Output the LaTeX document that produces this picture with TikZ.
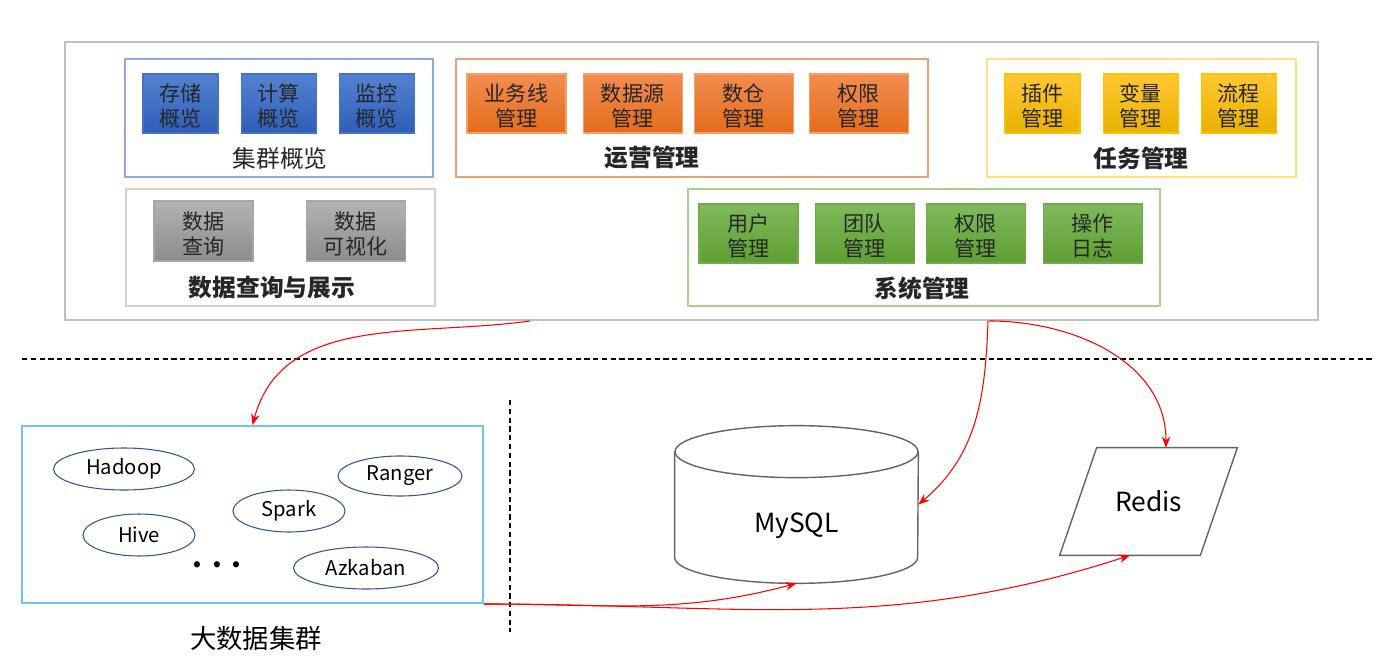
\documentclass[tikz,border=0pt]{standalone}
\usepackage{fontspec}
\setmainfont{Noto Sans CJK SC}
\usetikzlibrary{positioning, shapes.geometric, arrows.meta}

\definecolor{outerline}{RGB}{191,191,191}
\definecolor{clusterline}{RGB}{143,170,220}
\definecolor{opsline}{RGB}{232,162,122}
\definecolor{taskline}{RGB}{255,225,120}
\definecolor{queryline}{RGB}{208,208,208}
\definecolor{sysline}{RGB}{169,209,142}
\definecolor{bigline}{RGB}{110,198,240}
\definecolor{appline}{RGB}{47,85,151}
\definecolor{dbline}{RGB}{100,100,100}
\definecolor{itemtext}{RGB}{38,38,38}
\definecolor{bluetop}{RGB}{84,131,210}
\definecolor{bluebot}{RGB}{46,93,184}
\definecolor{blueline}{RGB}{68,114,196}
\definecolor{orangetop}{RGB}{242,141,80}
\definecolor{orangebot}{RGB}{228,108,27}
\definecolor{orangeline}{RGB}{244,160,106}
\definecolor{yellowtop}{RGB}{255,200,51}
\definecolor{yellowbot}{RGB}{233,177,0}
\definecolor{yellowline}{RGB}{255,192,0}
\definecolor{graytop}{RGB}{179,179,179}
\definecolor{graybot}{RGB}{140,140,140}
\definecolor{grayline}{RGB}{166,166,166}
\definecolor{greentop}{RGB}{128,186,92}
\definecolor{greenbot}{RGB}{94,158,50}
\definecolor{greenline}{RGB}{112,173,71}

\begin{document}
\begin{tikzpicture}[
  grp/.style={draw, rectangle, inner sep=0pt, line width=1.1pt},
  item/.style={rectangle, inner sep=0pt, minimum height=1.18cm, line width=0.6pt,
    text height=22pt, text depth=10pt,
    text=itemtext, font=\fontsize{12}{13.6}\selectfont},
  bluebox/.style={item, draw=blueline, top color=bluetop, bottom color=bluebot, minimum width=1.5cm},
  orangebox/.style={item, draw=orangeline, top color=orangetop, bottom color=orangebot, minimum width=1.98cm},
  yellowbox/.style={item, draw=yellowline, top color=yellowtop, bottom color=yellowbot, minimum width=1.5cm},
  graybox/.style={item, draw=grayline, top color=graytop, bottom color=graybot, minimum width=1.98cm, minimum height=1.2cm},
  greenbox/.style={item, draw=greenline, top color=greentop, bottom color=greenbot, minimum width=1.98cm},
  grptitle/.style={text=itemtext, font=\fontsize{13.5}{15}\selectfont},
  app/.style={draw=appline, ellipse, line width=0.6pt, inner sep=0pt, minimum height=0.84cm,
    font=\fontsize{11.5}{14}\selectfont},
  link/.style={draw=red, line width=0.6pt, -{Stealth[length=0.22cm, width=0.17cm]}},
]

\useasboundingbox (0,0) rectangle (27.74,-13.22);

% platform
\node[grp, draw=outerline, minimum width=25.06cm, minimum height=5.56cm] (outer) at (13.83,-3.62) {};

\node[grp, draw=clusterline, minimum width=6.16cm, minimum height=2.36cm] (cluster) at (5.58,-2.36) {};
\node[bluebox] (c1) at (3.61,-2.07) {\begin{tabular}{c} 存储 \\ 概览 \end{tabular}};
\node[bluebox, right=0.44cm of c1] (c2) {\begin{tabular}{c} 计算 \\ 概览 \end{tabular}};
\node[bluebox, right=0.44cm of c2] (c3) {\begin{tabular}{c} 监控 \\ 概览 \end{tabular}};
\node[grptitle] (t1) at (5.6,-3.16) {集群概览};

\node[grp, draw=opsline, minimum width=9.44cm, minimum height=2.36cm] (ops) at (13.84,-2.36) {};
\node[orangebox] (o1) at (10.33,-2.07) {\begin{tabular}{c} 业务线 \\ 管理 \end{tabular}};
\node[orangebox, right=0.32cm of o1] (o2) {\begin{tabular}{c} 数据源 \\ 管理 \end{tabular}};
\node[orangebox, right=0.22cm of o2] (o3) {\begin{tabular}{c} 数仓 \\ 管理 \end{tabular}};
\node[orangebox, right=0.30cm of o3] (o4) {\begin{tabular}{c} 权限 \\ 管理 \end{tabular}};
\node[grptitle, font=\fontsize{13.5}{15}\selectfont\bfseries] (t2) at (13.04,-3.16) {运营管理};

\node[grp, draw=taskline, minimum width=6.18cm, minimum height=2.36cm] (task) at (22.83,-2.36) {};
\node[yellowbox] (y1) at (20.85,-2.07) {\begin{tabular}{c} 插件 \\ 管理 \end{tabular}};
\node[yellowbox, right=0.44cm of y1] (y2) {\begin{tabular}{c} 变量 \\ 管理 \end{tabular}};
\node[yellowbox, right=0.44cm of y2] (y3) {\begin{tabular}{c} 流程 \\ 管理 \end{tabular}};
\node[grptitle, font=\fontsize{13.5}{15}\selectfont\bfseries] (t3) at (22.82,-3.16) {任务管理};

\node[grp, draw=queryline, minimum width=6.18cm, minimum height=2.34cm] (query) at (5.61,-4.95) {};
\node[graybox] (q1) at (4.07,-4.62) {\begin{tabular}{c} 数据 \\ 查询 \end{tabular}};
\node[graybox, right=1.04cm of q1] (q2) {\begin{tabular}{c} 数据 \\ 可视化 \end{tabular}};
\node[grptitle, font=\fontsize{13.5}{15}\selectfont\bfseries] (t4) at (5.44,-5.76) {数据查询与展示};

\node[grp, draw=sysline, minimum width=9.44cm, minimum height=2.34cm] (sys) at (18.48,-4.95) {};
\node[greenbox] (s1) at (14.97,-4.67) {\begin{tabular}{c} 用户 \\ 管理 \end{tabular}};
\node[greenbox, right=0.32cm of s1] (s2) {\begin{tabular}{c} 团队 \\ 管理 \end{tabular}};
\node[greenbox, right=0.22cm of s2] (s3) {\begin{tabular}{c} 权限 \\ 管理 \end{tabular}};
\node[greenbox, right=0.34cm of s3] (s4) {\begin{tabular}{c} 操作 \\ 日志 \end{tabular}};
\node[grptitle, font=\fontsize{13.5}{15}\selectfont\bfseries] (t5) at (18.44,-5.76) {系统管理};

% separators
\draw[line width=0.6pt, dash pattern=on 3pt off 2pt] (0.44,-7.18) -- (27.44,-7.18);
\draw[line width=0.6pt, dash pattern=on 3pt off 2pt] (10.2,-8.0) -- (10.2,-12.64);

% big data cluster
\node[draw=bigline, rectangle, line width=1.1pt, minimum width=9.22cm, minimum height=3.54cm] (bigdata) at (5.05,-10.29) {};
\node[app, minimum width=2.82cm] (hadoop) at (2.48,-9.38) {Hadoop};
\node[app, minimum width=2.48cm, minimum height=0.8cm] (ranger) at (8.0,-9.52) {Ranger};
\node[app, minimum width=2.24cm] (spark) at (5.78,-10.22) {Spark};
\node[app, minimum width=2.24cm] (hive) at (2.78,-10.7) {Hive};
\node[app, minimum width=2.9cm] (azkaban) at (7.32,-11.36) {Azkaban};
\node[font=\fontsize{16}{18}\selectfont\bfseries] (more) at (4.34,-11.3) {.\,\,.\,\,.};
\node[font=\fontsize{15}{18}\selectfont] (L1) at (5.12,-12.76) {大数据集群};

% storage
\node[minimum width=4.86cm, minimum height=3.14cm, inner sep=0pt,
  label={[font=\fontsize{15}{18}\selectfont, yshift=-0.43cm]center:MySQL}] (mysql) at (15.93,-10.09) {};
\draw[dbline, line width=0.8pt] ([yshift=-0.52cm]mysql.north) ellipse [x radius=2.43cm, y radius=0.52cm];
\draw[dbline, line width=0.8pt] ([yshift=-0.52cm]mysql.north west) -- ([yshift=0.52cm]mysql.south west)
  arc[start angle=180, end angle=360, x radius=2.43cm, y radius=0.52cm] -- ([yshift=-0.52cm]mysql.north east);

\node[minimum width=3.54cm, minimum height=2.14cm, inner sep=0pt, font=\fontsize{15}{18}\selectfont] (redis) at (22.97,-10.03) {Redis};
\draw[dbline, line width=0.8pt] ([xshift=0.74cm]redis.north west) -- (redis.north east)
  -- ([xshift=-0.74cm]redis.south east) -- (redis.south west) -- cycle;

% links
\draw[link] ([xshift=-3.23cm]outer.south) to[out=188, in=75] (bigdata.north);
\draw[link] ([xshift=5.93cm]outer.south) to[out=-92, in=40] (mysql.east);
\draw[link] ([xshift=5.95cm]outer.south) to[out=0, in=90] ([xshift=0.35cm]redis.north);
\draw[link] (bigdata.south east) to[out=0, in=-165] (mysql.south);
\draw[link] (bigdata.south east) to[out=0, in=-162] ([xshift=-0.37cm]redis.south);

\end{tikzpicture}
\end{document}
